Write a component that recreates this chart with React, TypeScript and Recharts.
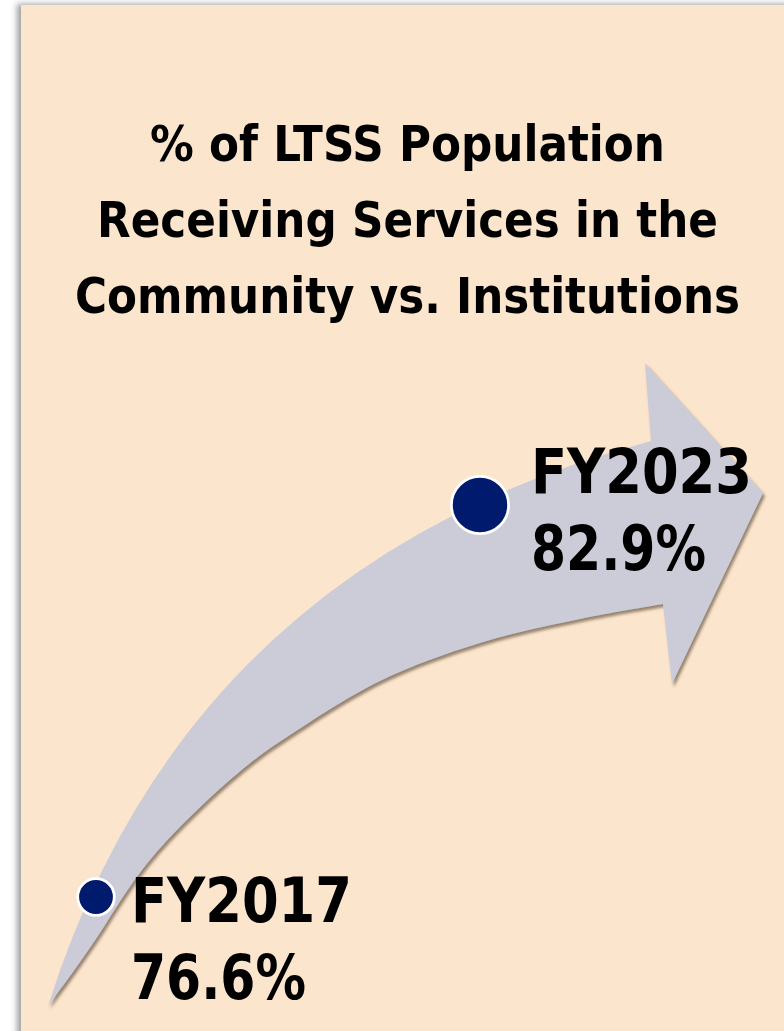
import React from 'react';
import { ScatterChart, Scatter, XAxis, YAxis, ZAxis, Customized } from 'recharts';

// ---- data ----
const fiscalYearLabels = ['FY2017', 'FY2023'];
const fiscalYears = [2017, 2023];
const communityShare = [76.6, 82.9];
const titleLines = ['% of LTSS Population', 'Receiving Services in the', 'Community vs. Institutions'];

const chartData = fiscalYears.map((year, i) => ({
  year,
  share: communityShare[i],
  label: fiscalYearLabels[i],
}));

// ---- look ----
const W = 784;
const H = 1031;
const FONT = "'DejaVu Sans Condensed', 'DejaVu Sans', sans-serif";
const PANEL_BG = '#FCE5CD';
const ARROW_FILL = '#CBCCD8';
const DOT_FILL = '#001A6E';

// title placement: left x, baseline y, rendered width
const TITLE_LAYOUT = [
  { x: 150, y: 161, w: 515 },
  { x: 97, y: 237, w: 621 },
  { x: 75, y: 313, w: 665 },
];
const TITLE_FONT_SIZE = 50;

// label offsets from each dot centre (text start, first baseline)
const LABEL_LAYOUT = [
  { dx: 35, dy: 25 },
  { dx: 51, dy: -12 },
];
const LABEL_LINE_GAP = 77;
const LABEL_FONT_SIZE = 63;
const LABEL_YEAR_WIDTH = 221;
const LABEL_VALUE_WIDTH = 175;

// decorative curved arrow behind the dots
type Pt = [number, number];
const ARROW_TAIL: Pt = [48, 1006];
const ARROW_UPPER_CTRL: Pt = [188, 564];
const ARROW_UPPER_NOTCH: Pt = [651, 441];
const ARROW_HEAD: Pt[] = [
  [645, 363],
  [763, 493],
  [672, 684],
  [663, 604],
];
const ARROW_LOWER_EDGE: Pt[] = [
  [663, 604],
  [580, 619],
  [480, 643],
  [380, 681],
  [287, 737],
  [237, 774],
  [187, 820],
  [150, 860],
  [123, 897],
  [98, 936],
  [73, 972],
  [48, 1006],
];

function smoothThrough(pts: Pt[]): string {
  let d = '';
  for (let i = 0; i < pts.length - 1; i++) {
    const p0 = pts[Math.max(i - 1, 0)];
    const p1 = pts[i];
    const p2 = pts[i + 1];
    const p3 = pts[Math.min(i + 2, pts.length - 1)];
    const c1x = p1[0] + (p2[0] - p0[0]) / 6;
    const c1y = p1[1] + (p2[1] - p0[1]) / 6;
    const c2x = p2[0] - (p3[0] - p1[0]) / 6;
    const c2y = p2[1] - (p3[1] - p1[1]) / 6;
    d += ` C ${c1x} ${c1y} ${c2x} ${c2y} ${p2[0]} ${p2[1]}`;
  }
  return d;
}

function ArrowLayer() {
  const d =
    `M ${ARROW_TAIL[0]} ${ARROW_TAIL[1]}` +
    ` Q ${ARROW_UPPER_CTRL[0]} ${ARROW_UPPER_CTRL[1]} ${ARROW_UPPER_NOTCH[0]} ${ARROW_UPPER_NOTCH[1]}` +
    ARROW_HEAD.map((p) => ` L ${p[0]} ${p[1]}`).join('') +
    smoothThrough(ARROW_LOWER_EDGE) +
    ' Z';
  return (
    <g>
      <defs>
        <filter id="arrowShadow" x="-10%" y="-10%" width="130%" height="130%">
          <feDropShadow dx="2" dy="3" stdDeviation="1.6" floodColor="#6b5a46" floodOpacity="0.7" />
        </filter>
      </defs>
      <path d={d} fill={ARROW_FILL} filter="url(#arrowShadow)" />
    </g>
  );
}

function TitleLayer() {
  return (
    <g>
      {titleLines.map((line, i) => (
        <text
          key={line}
          x={TITLE_LAYOUT[i].x}
          y={TITLE_LAYOUT[i].y}
          textLength={TITLE_LAYOUT[i].w}
          lengthAdjust="spacingAndGlyphs"
          fontFamily={FONT}
          fontWeight="bold"
          fontSize={TITLE_FONT_SIZE}
          fill="#000"
        >
          {line}
        </text>
      ))}
    </g>
  );
}

function PointMark(props: any) {
  const { cx, cy, width, payload, index } = props;
  if (cx == null || cy == null) return null;
  const r = (width ?? 0) / 2;
  const layout = LABEL_LAYOUT[index] ?? LABEL_LAYOUT[0];
  const tx = cx + layout.dx;
  const ty = cy + layout.dy;
  return (
    <g>
      <circle cx={cx} cy={cy} r={r - 1.4} fill={DOT_FILL} stroke="#ffffff" strokeWidth={2.8} />
      <text
        x={tx}
        y={ty}
        textLength={LABEL_YEAR_WIDTH}
        lengthAdjust="spacingAndGlyphs"
        fontFamily={FONT}
        fontWeight="bold"
        fontSize={LABEL_FONT_SIZE}
        fill="#000"
      >
        {payload.label}
      </text>
      <text
        x={tx}
        y={ty + LABEL_LINE_GAP}
        textLength={LABEL_VALUE_WIDTH}
        lengthAdjust="spacingAndGlyphs"
        fontFamily={FONT}
        fontWeight="bold"
        fontSize={LABEL_FONT_SIZE}
        fill="#000"
      >
        {`${payload.share.toFixed(1)}%`}
      </text>
    </g>
  );
}

export default function App() {
  return (
    <div
      style={{
        position: 'fixed',
        left: 0,
        top: 0,
        width: W,
        height: H,
        background: '#ffffff',
        overflow: 'hidden',
      }}
    >
      <div
        style={{
          position: 'absolute',
          left: 21,
          top: 5,
          width: W + 40,
          height: H + 40,
          background: PANEL_BG,
          boxShadow: '-4px -1px 6px rgba(0,0,0,0.38)',
        }}
      />
      <div style={{ position: 'absolute', left: 0, top: 0 }}>
        <ScatterChart
          width={W}
          height={H}
          margin={{ top: 505, right: 304, bottom: 134, left: 96 }}
        >
          <XAxis type="number" dataKey="year" domain={[2017, 2023]} hide />
          <YAxis type="number" dataKey="share" domain={[76.6, 82.9]} hide />
          <ZAxis type="number" dataKey="share" domain={[76.6, 82.9]} range={[1219, 2827]} />
          <Customized component={<TitleLayer />} />
          <Customized component={<ArrowLayer />} />
          <Scatter
            data={chartData}
            isAnimationActive={false}
            shape={(p: any) => <PointMark {...p} />}
          />
        </ScatterChart>
      </div>
    </div>
  );
}
